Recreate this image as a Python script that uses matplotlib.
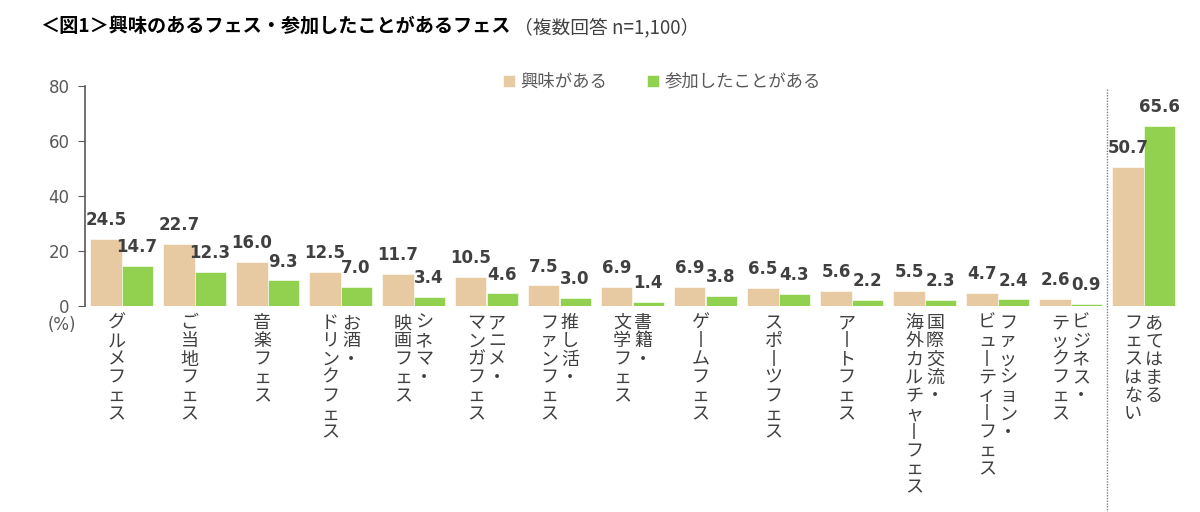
import matplotlib
matplotlib.use("Agg")
import matplotlib.pyplot as plt
import matplotlib.transforms as mtransforms
import numpy as np

plt.rcParams['font.family'] = ['Noto Sans CJK JP', 'DejaVu Sans']

# ---- data ----
categories = [
    ["グルメフェス"],
    ["ご当地フェス"],
    ["音楽フェス"],
    ["お酒・", "ドリンクフェス"],
    ["シネマ・", "映画フェス"],
    ["アニメ・", "マンガフェス"],
    ["推し活・", "ファンフェス"],
    ["書籍・", "文学フェス"],
    ["ゲームフェス"],
    ["スポーツフェス"],
    ["アートフェス"],
    ["国際交流・", "海外カルチャーフェス"],
    ["ファッション・", "ビューティーフェス"],
    ["ビジネス・", "テックフェス"],
    ["あてはまる", "フェスはない"],
]
interest = [24.5, 22.7, 16.0, 12.5, 11.7, 10.5, 7.5, 6.9, 6.9, 6.5, 5.6, 5.5, 4.7, 2.6, 50.7]
participated = [14.7, 12.3, 9.3, 7.0, 3.4, 4.6, 3.0, 1.4, 3.8, 4.3, 2.2, 2.3, 2.4, 0.9, 65.6]
series_names = ["興味がある", "参加したことがある"]
yticks = [0, 20, 40, 60, 80]
title_main = "＜図1＞興味のあるフェス・参加したことがあるフェス"
title_sub = "（複数回答 n=1,100）"

c_interest = "#E8CAA2"
c_part = "#92D050"
txt_dark = "#404040"
txt_gray = "#595959"

fig = plt.figure(figsize=(12, 5.12), dpi=100)
ax = fig.add_axes([85 / 1200, 1 - 306 / 512, 1095 / 1200, 220 / 512])

x = np.arange(len(categories))
w = 0.425
ax.bar(x - w / 2, interest, width=w, color=c_interest, edgecolor="white", linewidth=0.4, label=series_names[0])
ax.bar(x + w / 2, participated, width=w, color=c_part, edgecolor="white", linewidth=0.4, label=series_names[1])

for xi, v in zip(x, interest):
    ax.annotate(f"{v:.1f}", (xi - w / 2, v), xytext=(0, 7), textcoords="offset points",
                ha="center", va="bottom", fontsize=12, fontweight="bold", color=txt_dark,
                family="DejaVu Sans")
for xi, v in zip(x, participated):
    ax.annotate(f"{v:.1f}", (xi + w / 2, v), xytext=(0, 7), textcoords="offset points",
                ha="center", va="bottom", fontsize=12, fontweight="bold", color=txt_dark,
                family="DejaVu Sans")

ax.set_xlim(-0.5, len(categories) - 0.5)
ax.set_ylim(0, 80)
ax.set_yticks(yticks)
ax.set_yticklabels([str(t) for t in yticks], fontsize=12, color=txt_gray, family="DejaVu Sans")
ax.set_xticks([])
for s in ["top", "right", "bottom"]:
    ax.spines[s].set_visible(False)
ax.spines["left"].set_color(txt_gray)
ax.spines["left"].set_linewidth(1.2)
ax.tick_params(axis="y", direction="out", length=5, color=txt_gray, pad=6)

# separator dotted line
ax.plot([13.5, 13.5], [79, -75], color="#808080", linestyle=(0, (1, 1)), linewidth=1.0, clip_on=False)

# (%) label
fig.text(62 / 1200, 1 - 325 / 512, "(%)", fontsize=12, color=txt_gray, ha="center", va="center",
         family="DejaVu Sans")

# vertical category labels (one multi-line text per column, read right to left)
for i, lines in enumerate(categories):
    col_x = [-5] if len(lines) == 1 else [10.5, -10.5]
    for ci, line in enumerate(lines):
        s = "\n".join("丨" if ch == "ー" else ch for ch in line)
        tr = mtransforms.offset_copy(ax.transData, fig=fig, x=col_x[ci], y=-8, units="dots")
        ax.text(i, 0, s, transform=tr, ha="center", va="top", fontsize=13,
                color=txt_dark, linespacing=1.02, clip_on=False, multialignment="center")

# legend
fig.legend(loc="center", bbox_to_anchor=(662 / 1200, 1 - 82 / 512), ncol=2, frameon=False,
           fontsize=12.5, handlelength=0.7, handleheight=0.7, handletextpad=0.3,
           columnspacing=2.3, labelcolor=txt_gray)

# title
t1 = fig.text(40 / 1200, 1 - 27 / 512, title_main, fontsize=13.8, fontweight="bold", color="#000000",
              ha="left", va="center")
fig.canvas.draw()
bb = t1.get_window_extent()
fig.text((bb.x1 + 4) / 1200, 1 - 28 / 512, title_sub, fontsize=13.5, color=txt_dark,
         ha="left", va="center")

fig.savefig("out.png", dpi=100, facecolor="white")
